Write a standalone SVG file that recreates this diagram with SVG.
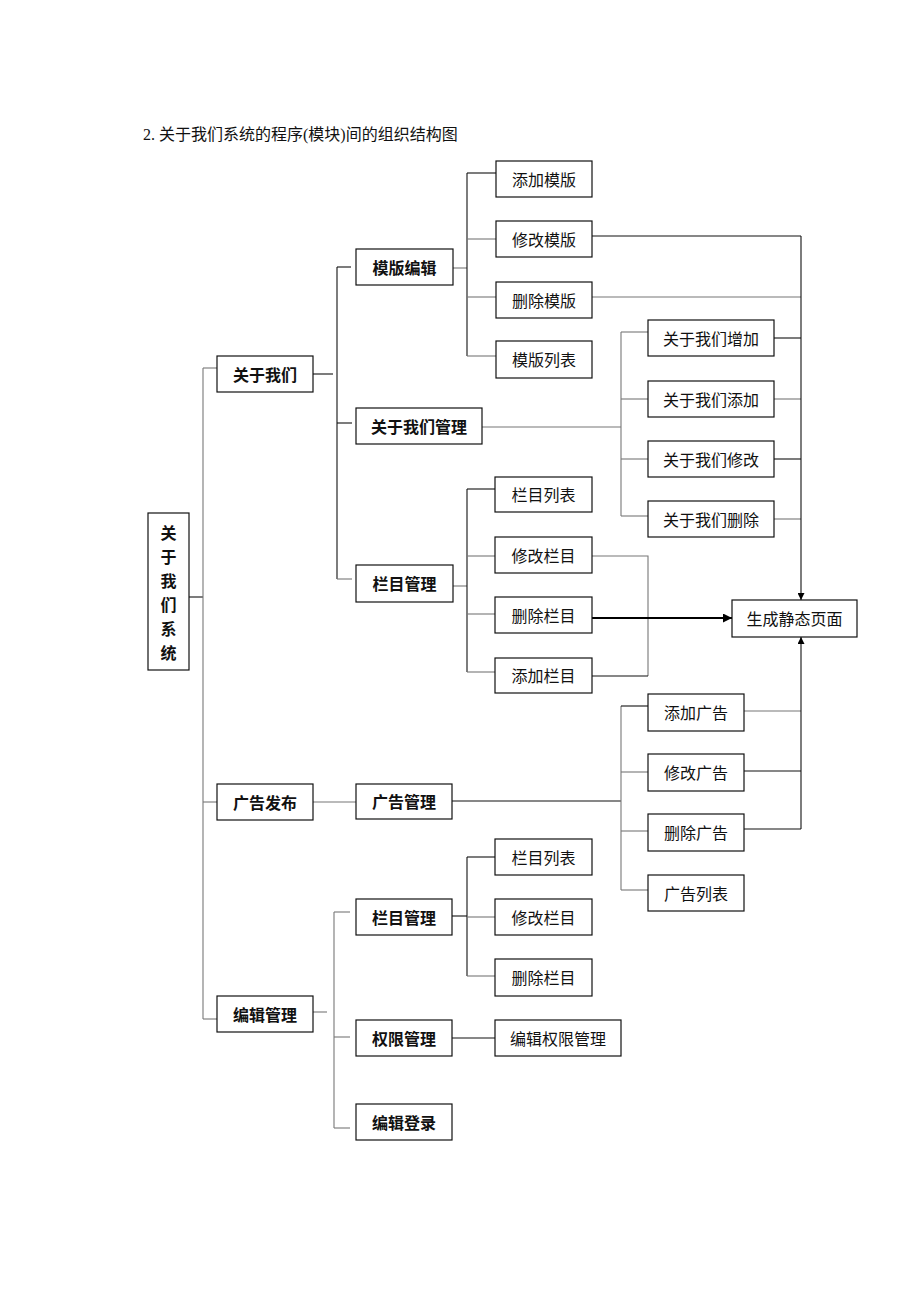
<svg xmlns="http://www.w3.org/2000/svg" width="920" height="1302" viewBox="0 0 920 1302">
<style>
.b{fill:#fff;stroke:#111;stroke-width:1.2}
.t{font-family:"Noto Sans CJK SC",sans-serif;font-size:16px;fill:#111;text-anchor:middle;dominant-baseline:central}
.tb{font-weight:bold}
.k{stroke:#111;stroke-width:1.1;fill:none}
.g{stroke:#777;stroke-width:1.1;fill:none}
.a{stroke:#000;stroke-width:2;fill:none}
.title{font-family:"Liberation Serif","Noto Sans CJK SC",serif;font-size:16px;fill:#111}
</style>
<defs>
<marker id="ar" viewBox="0 0 10 10" refX="10" refY="5" markerWidth="7" markerHeight="7" orient="auto" markerUnits="userSpaceOnUse">
<path d="M0,0 L10,5 L0,10 z" fill="#000"/>
</marker>
<marker id="ar2" viewBox="0 0 10 10" refX="10" refY="5" markerWidth="9" markerHeight="9" orient="auto" markerUnits="userSpaceOnUse">
<path d="M0,0 L10,5 L0,10 z" fill="#000"/>
</marker>
</defs>
<rect width="920" height="1302" fill="#fff"/>
<text class="title" x="143" y="140">2. 关于我们系统的程序(模块)间的组织结构图</text>

<g id="connectors">
<!-- root to level1 -->
<path class="k" d="M189,597 H203"/>
<path class="g" d="M203,368 V1019"/>
<path class="g" d="M203,368 H217"/>
<path class="g" d="M203,802 H217"/>
<path class="g" d="M203,1019 H217"/>
<!-- 关于我们 -->
<path class="k" d="M313,374 H333"/>
<path class="k" d="M337,267 V579"/>
<path class="k" d="M337,267 H351"/>
<path class="k" d="M337,423 H352"/>
<path class="g" d="M337,579 H352"/>
<!-- 模版编辑 -->
<path class="g" d="M453,268 H467"/>
<path class="k" d="M467,173 V356"/>
<path class="k" d="M467,173 H496"/>
<path class="g" d="M467,239 H496"/>
<path class="g" d="M467,297 H496"/>
<path class="g" d="M467,356 H496"/>
<path class="k" d="M592,236 H801"/>
<path class="g" d="M592,297 H801"/>
<!-- 关于我们管理 -->
<path class="g" d="M482,427 H621"/>
<path class="g" d="M621,332 V516"/>
<path class="g" d="M621,332 H648"/>
<path class="g" d="M621,399 H648"/>
<path class="g" d="M621,459 H648"/>
<path class="g" d="M621,516 H648"/>
<path class="k" d="M774,338 H801"/>
<path class="g" d="M774,399 H801"/>
<path class="k" d="M774,459 H801"/>
<path class="g" d="M774,519 H801"/>
<!-- vertical to 生成静态页面 -->
<path class="k" d="M801,236 V600" marker-end="url(#ar)"/>
<!-- 栏目管理 top -->
<path class="g" d="M453,586 H467"/>
<path class="k" d="M467,489 V672"/>
<path class="k" d="M467,489 H495"/>
<path class="g" d="M467,556 H495"/>
<path class="g" d="M467,614 H495"/>
<path class="g" d="M467,672 H495"/>
<path class="g" d="M592,556 H648 V676"/>
<path class="k" d="M592,676 H648"/>
<path class="a" d="M592,618 H732" marker-end="url(#ar2)"/>
<!-- 广告 -->
<path class="g" d="M313,802 H356"/>
<path class="k" d="M452,801 H621"/>
<path class="g" d="M621,706 V890"/>
<path class="k" d="M621,706 H648"/>
<path class="g" d="M621,772 H648"/>
<path class="g" d="M621,831 H648"/>
<path class="g" d="M621,890 H648"/>
<path class="g" d="M744,711 H801"/>
<path class="k" d="M744,771 H801"/>
<path class="k" d="M744,829 H801"/>
<path class="k" d="M801,829 V637" marker-end="url(#ar)"/>
<!-- 编辑管理 -->
<path class="g" d="M313,1012 H327"/>
<path class="g" d="M334,912 V1128"/>
<path class="g" d="M334,912 H350"/>
<path class="g" d="M334,1037 H350"/>
<path class="g" d="M334,1128 H350"/>
<path class="k" d="M452,916 H467"/>
<path class="k" d="M467,857 V976"/>
<path class="k" d="M467,857 H495"/>
<path class="g" d="M467,917 H495"/>
<path class="g" d="M467,976 H495"/>
<path class="k" d="M452,1038 H495"/>
</g>

<g id="root"><rect class="b" x="148" y="513" width="41" height="157"/>
<text class="t tb" x="168.5" y="532">关</text><text class="t tb" x="168.5" y="556">于</text><text class="t tb" x="168.5" y="580">我</text><text class="t tb" x="168.5" y="604">们</text><text class="t tb" x="168.5" y="628">系</text><text class="t tb" x="168.5" y="652">统</text></g>

<g id="n-guanyuwomen"><rect class="b" x="217" y="356" width="96" height="36"/><text class="t tb" x="265" y="374">关于我们</text></g>
<g id="n-guanggaofabu"><rect class="b" x="217" y="784" width="96" height="36"/><text class="t tb" x="265" y="802">广告发布</text></g>
<g id="n-bianjiguanli"><rect class="b" x="217" y="996" width="96" height="36"/><text class="t tb" x="265" y="1014">编辑管理</text></g>

<g id="n-mobanbianji"><rect class="b" x="356" y="249" width="97" height="36"/><text class="t tb" x="404.5" y="267">模版编辑</text></g>
<g id="n-gywmgl"><rect class="b" x="356" y="408" width="126" height="36"/><text class="t tb" x="419" y="426">关于我们管理</text></g>
<g id="n-lanmuguanli1"><rect class="b" x="356" y="565" width="97" height="37"/><text class="t tb" x="404.5" y="583">栏目管理</text></g>
<g id="n-guanggaoguanli"><rect class="b" x="356" y="784" width="96" height="35"/><text class="t tb" x="404" y="801">广告管理</text></g>
<g id="n-lanmuguanli2"><rect class="b" x="356" y="899" width="96" height="36"/><text class="t tb" x="404" y="917">栏目管理</text></g>
<g id="n-quanxianguanli"><rect class="b" x="356" y="1020" width="96" height="36"/><text class="t tb" x="404" y="1038">权限管理</text></g>
<g id="n-bianjidenglu"><rect class="b" x="356" y="1104" width="96" height="36"/><text class="t tb" x="404" y="1122">编辑登录</text></g>

<g id="n-tjmb"><rect class="b" x="496" y="161" width="96" height="36"/><text class="t" x="544" y="179">添加模版</text></g>
<g id="n-xgmb"><rect class="b" x="496" y="221" width="96" height="36"/><text class="t" x="544" y="239">修改模版</text></g>
<g id="n-scmb"><rect class="b" x="496" y="282" width="96" height="36"/><text class="t" x="544" y="300">删除模版</text></g>
<g id="n-mblb"><rect class="b" x="496" y="341" width="96" height="37"/><text class="t" x="544" y="359">模版列表</text></g>

<g id="n-gywmzj"><rect class="b" x="648" y="320" width="126" height="36"/><text class="t" x="711" y="338">关于我们增加</text></g>
<g id="n-gywmtj"><rect class="b" x="648" y="381" width="126" height="36"/><text class="t" x="711" y="399">关于我们添加</text></g>
<g id="n-gywmxg"><rect class="b" x="648" y="441" width="126" height="36"/><text class="t" x="711" y="459">关于我们修改</text></g>
<g id="n-gywmsc"><rect class="b" x="648" y="501" width="126" height="36"/><text class="t" x="711" y="519">关于我们删除</text></g>

<g id="n-lmlb1"><rect class="b" x="495" y="477" width="97" height="35"/><text class="t" x="543.5" y="494">栏目列表</text></g>
<g id="n-xglm1"><rect class="b" x="495" y="537" width="97" height="36"/><text class="t" x="543.5" y="555">修改栏目</text></g>
<g id="n-sclm1"><rect class="b" x="495" y="597" width="97" height="36"/><text class="t" x="543.5" y="615">删除栏目</text></g>
<g id="n-tjlm1"><rect class="b" x="495" y="658" width="97" height="35"/><text class="t" x="543.5" y="675">添加栏目</text></g>

<g id="n-scjtym"><rect class="b" x="732" y="600" width="125" height="37"/><text class="t" x="794.5" y="618">生成静态页面</text></g>

<g id="n-tjgg"><rect class="b" x="648" y="694" width="96" height="37"/><text class="t" x="696" y="712">添加广告</text></g>
<g id="n-xggg"><rect class="b" x="648" y="754" width="96" height="37"/><text class="t" x="696" y="772">修改广告</text></g>
<g id="n-scgg"><rect class="b" x="648" y="814" width="96" height="37"/><text class="t" x="696" y="832">删除广告</text></g>
<g id="n-gglb"><rect class="b" x="648" y="875" width="96" height="36"/><text class="t" x="696" y="893">广告列表</text></g>

<g id="n-lmlb2"><rect class="b" x="495" y="839" width="97" height="36"/><text class="t" x="543.5" y="857">栏目列表</text></g>
<g id="n-xglm2"><rect class="b" x="495" y="899" width="97" height="36"/><text class="t" x="543.5" y="917">修改栏目</text></g>
<g id="n-sclm2"><rect class="b" x="495" y="959" width="97" height="37"/><text class="t" x="543.5" y="977">删除栏目</text></g>
<g id="n-bjqxgl"><rect class="b" x="495" y="1020" width="126" height="36"/><text class="t" x="558" y="1038">编辑权限管理</text></g>
</svg>
